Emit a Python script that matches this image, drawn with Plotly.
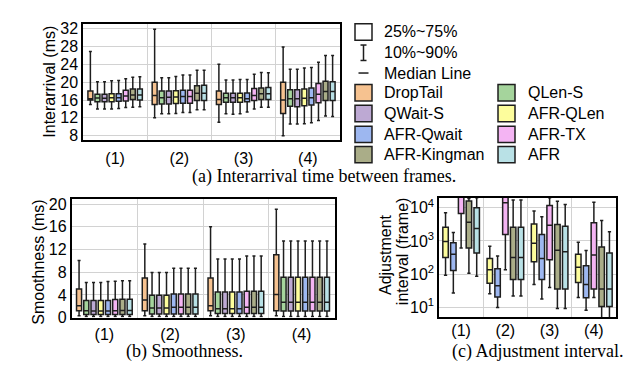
import plotly.graph_objects as go

W, H = 637, 376

scenarios = ["(1)", "(2)", "(3)", "(4)"]
methods = ["DropTail", "QLen-S", "QWait-S", "AFR-QLen", "AFR-Qwait", "AFR-TX", "AFR-Kingman", "AFR"]
colors = ["#F6C290", "#A5D49C", "#BDA9D3", "#FDFD9C", "#9DB7F0", "#F4B4F3", "#AAAD88", "#B9E1E6"]

# (a) Interarrival time (ms): one row per method, one value per scenario
ia_p10 = [[15.0, 12.0, 11.0, 8.0], [14.0, 12.9, 12.9, 10.6], [14.0, 12.9, 12.8, 10.6], [14.0, 13.0, 12.9, 10.7],
          [14.1, 13.2, 13.3, 10.9], [14.3, 13.2, 14.0, 11.4], [14.4, 13.8, 14.4, 12.4], [14.5, 13.8, 14.4, 12.3]]
ia_q1 = [[16.0, 15.0, 15.0, 13.0], [15.6, 15.1, 15.5, 14.6], [15.6, 15.1, 15.5, 14.5], [15.6, 15.2, 15.5, 14.7],
         [15.7, 15.3, 15.6, 14.9], [15.8, 15.3, 15.9, 15.4], [16.1, 15.9, 16.1, 15.9], [16.0, 15.9, 16.1, 15.9]]
ia_med = [[16.3, 17.0, 16.1, 16.0], [16.45, 16.5, 16.5, 16.3], [16.4, 16.6, 16.5, 16.3], [16.5, 16.7, 16.5, 16.4],
          [16.5, 16.8, 16.3, 16.5], [16.9, 16.8, 17.0, 17.3], [17.1, 17.5, 17.4, 17.9], [17.1, 17.5, 17.4, 17.9]]
ia_q3 = [[18.0, 20.0, 18.0, 20.0], [17.3, 18.0, 17.5, 18.3], [17.3, 18.0, 17.5, 18.3], [17.4, 18.1, 17.5, 18.5],
         [17.4, 18.2, 17.6, 18.7], [18.2, 18.2, 18.6, 19.7], [18.5, 19.2, 18.7, 20.2], [18.5, 19.3, 18.8, 20.1]]
ia_p90 = [[26.9, 31.9, 24.0, 27.9], [20.1, 21.0, 20.5, 22.9], [20.1, 21.0, 20.5, 22.9], [20.3, 21.3, 20.6, 23.2],
          [20.4, 21.6, 20.6, 23.3], [20.8, 21.6, 21.8, 24.5], [21.1, 22.7, 22.2, 26.0], [21.2, 22.7, 22.1, 26.0]]

# (b) Smoothness (ms)
sm_p10 = [[0.3, 0.3, 0.3, 0.3], [0.2, 0.2, 0.2, 0.2], [0.2, 0.2, 0.2, 0.2], [0.2, 0.2, 0.2, 0.2],
          [0.2, 0.2, 0.2, 0.2], [0.2, 0.2, 0.2, 0.2], [0.2, 0.2, 0.2, 0.2], [0.2, 0.2, 0.2, 0.2]]
sm_q1 = [[1.2, 1.2, 1.2, 1.2], [0.55, 0.65, 0.7, 1.15], [0.55, 0.65, 0.7, 1.15], [0.55, 0.65, 0.7, 1.15],
         [0.55, 0.65, 0.7, 1.15], [0.55, 0.65, 0.7, 1.15], [0.55, 0.65, 0.7, 1.15], [0.55, 0.65, 0.7, 1.15]]
sm_med = [[2.1, 3.1, 2.1, 4.05], [1.2, 1.7, 1.55, 2.7], [1.15, 1.7, 1.55, 2.7], [1.15, 1.7, 1.55, 2.7],
          [1.15, 1.8, 1.55, 2.7], [1.2, 1.8, 1.8, 2.7], [1.25, 1.8, 1.8, 2.7], [1.25, 1.8, 1.8, 2.7]]
sm_q3 = [[5.05, 7.0, 7.0, 11.1], [3.0, 3.95, 4.5, 7.1], [3.0, 3.95, 4.5, 7.1], [3.0, 3.95, 4.5, 7.1],
         [3.0, 4.15, 4.5, 7.1], [3.2, 4.15, 4.65, 7.1], [3.25, 4.15, 4.65, 7.1], [3.25, 4.15, 4.65, 7.1]]
sm_p90 = [[10.05, 13.0, 16.0, 19.1], [6.2, 7.95, 10.35, 13.5], [6.2, 7.95, 10.35, 13.5], [6.2, 7.95, 10.35, 13.5],
          [6.35, 8.7, 10.35, 13.5], [6.4, 8.7, 10.85, 13.5], [6.5, 8.7, 10.85, 13.5], [6.5, 8.7, 10.85, 13.5]]

# (c) Adjustment interval (frame) - AFR variants only
adj_methods = ["AFR-QLen", "AFR-Qwait", "AFR-TX", "AFR-Kingman", "AFR"]
adj_p10 = [[93, 26, 49, 20], [27, 10, 18, 8.3], [610, 135, 40, 20], [107, 22, 9.3, 3], [87, 22, 9.3, 3]]
adj_q1 = [[316, 53, 235, 56], [129, 20.5, 69, 19.5], [6700, 1550, 270, 36], [610, 69, 36, 10.6], [435, 69, 36, 10.6]]
adj_med = [[960, 135, 850, 162], [400, 45, 295, 49], [30000, 14000, 2940, 380], [3650, 315, 525, 36], [2350, 315, 470, 36]]
adj_q3 = [[2600, 295, 3250, 395], [890, 145, 1550, 178], [60000, 40000, 11700, 3500], [16000, 2600, 3100, 660], [10000, 2600, 2750, 435]]
adj_p90 = [[7100, 690, 8000, 910], [1780, 355, 5350, 515], [100000, 80000, 20000, 14700], [19000, 17000, 15600, 4100], [20000, 17000, 12500, 1880]]

SANS = "Liberation Sans, Arial, sans-serif"
SERIF = "Liberation Serif, Times New Roman, serif"
LINE = "#1e1e1e"
GRID = "#d2d2d2"


def px_x(x):
    return x / W


def px_y(y):
    return 1 - y / H


fig = go.Figure()

color_of = dict(zip(methods, colors))


def add_boxes(names, p10, q1, med, q3, p90, xa, ya):
    for i, name in enumerate(names):
        fig.add_trace(go.Box(
            name=name, x=scenarios, lowerfence=p10[i], q1=q1[i], median=med[i], q3=q3[i], upperfence=p90[i],
            fillcolor=color_of[name], line=dict(color=LINE, width=1.5), whiskerwidth=0.6,
            boxpoints=False, showlegend=False, xaxis=xa, yaxis=ya, offsetgroup=name,
        ))


add_boxes(methods, ia_p10, ia_q1, ia_med, ia_q3, ia_p90, "x", "y")
add_boxes(methods, sm_p10, sm_q1, sm_med, sm_q3, sm_p90, "x2", "y2")
add_boxes(adj_methods, adj_p10, adj_q1, adj_med, adj_q3, adj_p90, "x3", "y3")

axis_common = dict(showline=True, linecolor="black", linewidth=1.5, mirror=True,
                   gridcolor=GRID, gridwidth=1, ticks="", zeroline=False,
                   tickfont=dict(family=SANS, size=16, color="black"))

xcommon = dict(axis_common, type="category", categoryorder="array", categoryarray=scenarios,
               tickson="boundaries", showgrid=True, range=[-0.5, 3.5])

fig.update_layout(
    width=W, height=H, margin=dict(l=0, r=0, t=0, b=0),
    paper_bgcolor="white", plot_bgcolor="white",
    boxmode="group", boxgap=0.12, boxgroupgap=0.3,
    font=dict(family=SANS, size=16, color="black"),
    xaxis=dict(xcommon, domain=[px_x(83), px_x(340)], anchor="y", ticklabelstandoff=3),
    yaxis=dict(axis_common, domain=[px_y(141), px_y(21)], anchor="x", range=[7, 33],
               tickvals=[8, 12, 16, 20, 24, 28, 32]),
    xaxis2=dict(xcommon, domain=[px_x(71.5), px_x(334.5)], anchor="y2", ticklabelstandoff=1),
    yaxis2=dict(axis_common, domain=[px_y(324.8), px_y(201.5)], anchor="x2", range=[0, 21],
                tickvals=[0, 4, 8, 12, 16, 20]),
    xaxis3=dict(xcommon, domain=[px_x(439), px_x(616)], anchor="y3", ticklabelstandoff=-2),
    yaxis3=dict(axis_common, domain=[px_y(324.3), px_y(201)], anchor="x3", type="log", range=[0.71, 4.29],
                tickvals=[10, 100, 1000, 10000],
                ticktext=["10<sup>1</sup>", "10<sup>2</sup>", "10<sup>3</sup>", "10<sup>4</sup>"]),
)

shapes = []
annotations = []


def add_text(x, y, text, size=16, anchor="left", angle=0, family=SANS):
    annotations.append(dict(x=px_x(x), y=px_y(y), xref="paper", yref="paper", text=text, showarrow=False,
                            xanchor=anchor, yanchor="middle", textangle=angle, borderpad=0,
                            font=dict(family=family, size=size, color="black")))


# Y-axis titles
add_text(50, 80.5, "Interarrival (ms)", anchor="center", angle=-90)
add_text(39, 268, "Smoothness (ms)", anchor="center", angle=-90)
add_text(385, 260, "Adjustment", anchor="center", angle=-90)
add_text(402, 256, "interval (frame)", anchor="center", angle=-90)

# Custom legend
sq = 17
lx0, lx1 = 355, 498
tx0, tx1 = 383, 527
row_y = [29, 50.5, 71.5, 92, 113.5, 135, 156]

# 25%~75%
shapes.append(dict(type="rect", xref="paper", yref="paper", x0=px_x(lx0), x1=px_x(lx0 + sq),
                   y0=px_y(row_y[0] + sq / 2), y1=px_y(row_y[0] - sq / 2),
                   line=dict(color=LINE, width=1.5), fillcolor="white"))
add_text(tx0, row_y[0], "25%~75%")
# 10%~90%
cx = lx0 + sq / 2
for seg in [(cx, row_y[1] - 8, cx, row_y[1] + 8), (cx - 3, row_y[1] - 8, cx + 3, row_y[1] - 8),
            (cx - 3, row_y[1] + 8, cx + 3, row_y[1] + 8)]:
    shapes.append(dict(type="line", xref="paper", yref="paper", x0=px_x(seg[0]), y0=px_y(seg[1]),
                       x1=px_x(seg[2]), y1=px_y(seg[3]), line=dict(color=LINE, width=1.5)))
add_text(tx0, row_y[1], "10%~90%")
# Median line
shapes.append(dict(type="line", xref="paper", yref="paper", x0=px_x(cx - 5), x1=px_x(cx + 5),
                   y0=px_y(row_y[2]), y1=px_y(row_y[2]), line=dict(color=LINE, width=1.5)))
add_text(tx0, row_y[2], "Median Line")

for i, (name, col) in enumerate(zip(methods, colors)):
    r = i // 2
    c = i % 2
    y = row_y[3 + r]
    bx = lx0 if c == 0 else lx1
    tx = tx0 if c == 0 else tx1
    shapes.append(dict(type="rect", xref="paper", yref="paper", x0=px_x(bx), x1=px_x(bx + sq),
                       y0=px_y(y + sq / 2), y1=px_y(y - sq / 2),
                       line=dict(color=LINE, width=1.5), fillcolor=col))
    add_text(tx, y, name)

# Captions
add_text(324, 179, "(a) Interarrival time between frames.", size=18, anchor="center", family=SERIF)
add_text(184, 360, "(b) Smoothness.", size=18, anchor="center", family=SERIF)
add_text(537, 360, "(c) Adjustment interval.", size=18, anchor="center", family=SERIF)

fig.update_layout(shapes=shapes, annotations=annotations)

fig.write_html(
    "out.html",
    config={"displayModeBar": False},
    post_script="document.body.style.margin='0px';document.body.style.overflow='hidden';",
)
